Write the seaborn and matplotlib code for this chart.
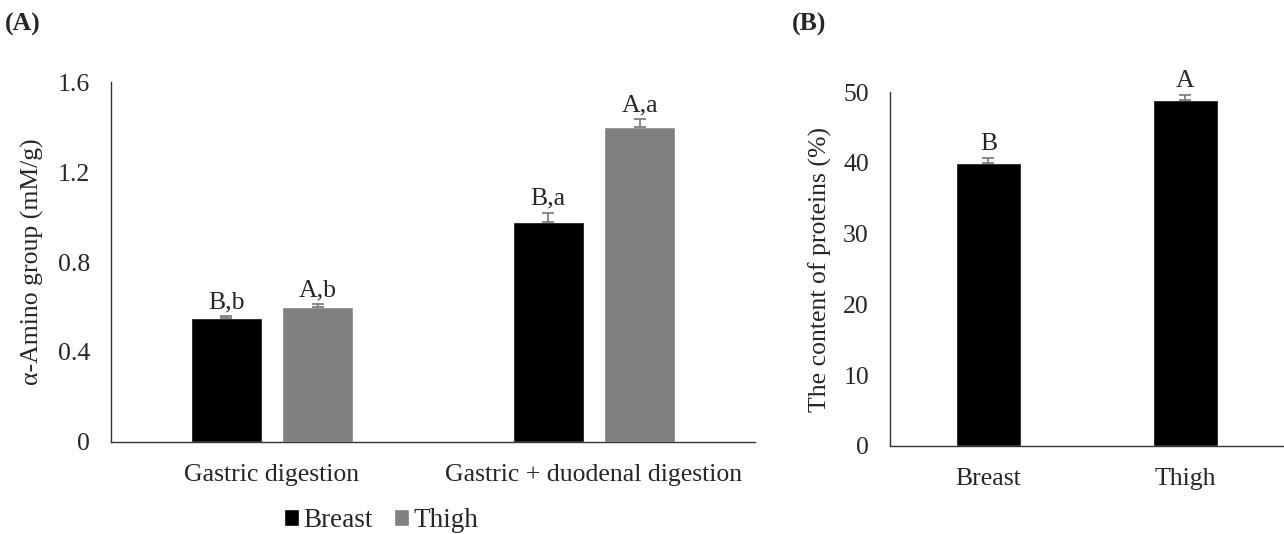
import matplotlib
matplotlib.use("Agg")
import matplotlib.pyplot as plt
import seaborn as sns
import pandas as pd
import numpy as np

# ---- data ----
stages = ["Gastric digestion", "Gastric + duodenal digestion"]
meats = ["Breast", "Thigh"]
breast_amino = [0.55, 0.98]
thigh_amino = [0.60, 1.40]
breast_amino_err = [0.01, 0.04]
thigh_amino_err = [0.012, 0.037]
amino_letters_breast = ["B,b", "B,a"]
amino_letters_thigh = ["A,b", "A,a"]

protein_content = [40.0, 48.9]
protein_err = [0.7, 0.7]
protein_letters = ["B", "A"]

sns.set_theme(style="white")
plt.rcParams["font.family"] = ["Liberation Serif", "DejaVu Serif"]
FS = 18.5
plt.rcParams["font.size"] = FS

colors = {"Breast": "#000000", "Thigh": "#808080"}

fig = plt.figure(figsize=(12.84, 5.34), dpi=100)
axA = fig.add_axes([0.0864, 0.1723, 0.5016, 0.6741])
axB = fig.add_axes([0.693, 0.1648, 0.307, 0.6629])

# ---- Panel A ----
dfA = pd.DataFrame({
    "stage": stages * 2,
    "meat": ["Breast"] * 2 + ["Thigh"] * 2,
    "value": breast_amino + thigh_amino,
})
sns.barplot(data=dfA, x="stage", y="value", hue="meat", order=stages,
            hue_order=meats, palette=colors, width=0.568, gap=0.225,
            errorbar=None, saturation=1, ax=axA, legend=True)
errs = {"Breast": breast_amino_err, "Thigh": thigh_amino_err}
vals = {"Breast": breast_amino, "Thigh": thigh_amino}
labs = {"Breast": amino_letters_breast, "Thigh": amino_letters_thigh}
for cont, m in zip(axA.containers, meats):
    xs = [p.get_x() + p.get_width() / 2 for p in cont.patches]
    axA.errorbar(xs, vals[m], yerr=[np.zeros(2), errs[m]], fmt="none",
                 ecolor="#777777", elinewidth=1.2, capsize=4, capthick=1.2, zorder=3)
    for x, v, e, t in zip(xs, vals[m], errs[m], labs[m]):
        axA.text(x, v + e + 0.012, t, ha="center", va="bottom", fontsize=FS)
axA.set_xlim(-0.5, 1.5)
axA.set_ylim(0, 1.6)
axA.set_yticks([0, 0.4, 0.8, 1.2, 1.6])
axA.set_yticklabels(["0", "0.4", "0.8", "1.2", "1.6"])
axA.set_xlabel("")
axA.set_ylabel("α-Amino group (mM/g)", fontsize=FS, labelpad=10)
axA.tick_params(axis="y", length=0, pad=15, labelsize=FS)
axA.tick_params(axis="x", length=0, pad=16, labelsize=FS)
handles, labels = axA.get_legend_handles_labels()
axA.get_legend().remove()
fig.legend(handles, labels, loc="center", bbox_to_anchor=(0.297, 0.025), ncol=2,
           frameon=False, handlelength=0.55, handleheight=0.55, handletextpad=0.15,
           columnspacing=0.8, fontsize=19.5)

# ---- Panel B ----
dfB = pd.DataFrame({"meat": meats, "value": protein_content})
sns.barplot(data=dfB, x="meat", y="value", order=meats, color="#000000",
            width=0.33, errorbar=None, saturation=1, ax=axB)
xsB = [p.get_x() + p.get_width() / 2 for p in axB.containers[0].patches]
axB.errorbar(xsB, protein_content, yerr=[np.zeros(2), protein_err], fmt="none",
             ecolor="#777777", elinewidth=1.2, capsize=4, capthick=1.2, zorder=3)
for x, v, e, t in zip(xsB, protein_content, protein_err, protein_letters):
    axB.text(x, v + e + 0.4, t, ha="center", va="bottom", fontsize=FS)
axB.set_xlim(-0.5, 1.5)
axB.set_ylim(0, 50)
axB.set_yticks([0, 10, 20, 30, 40, 50])
axB.set_xlabel("")
axB.set_ylabel("The content of proteins (%)", fontsize=FS, labelpad=8)
axB.tick_params(axis="y", length=0, pad=15, labelsize=FS)
axB.tick_params(axis="x", length=0, pad=16, labelsize=FS)

for ax in (axA, axB):
    for s in ("top", "right"):
        ax.spines[s].set_visible(False)
    for s in ("left", "bottom"):
        ax.spines[s].set_color("#333333")
        ax.spines[s].set_linewidth(1.0)

fig.text(0.004, 0.955, "(A)", fontsize=FS, fontweight="bold", ha="left", va="center")
fig.text(0.617, 0.955, "(B)", fontsize=FS, fontweight="bold", ha="left", va="center")

fig.savefig("out.png", dpi=100)
